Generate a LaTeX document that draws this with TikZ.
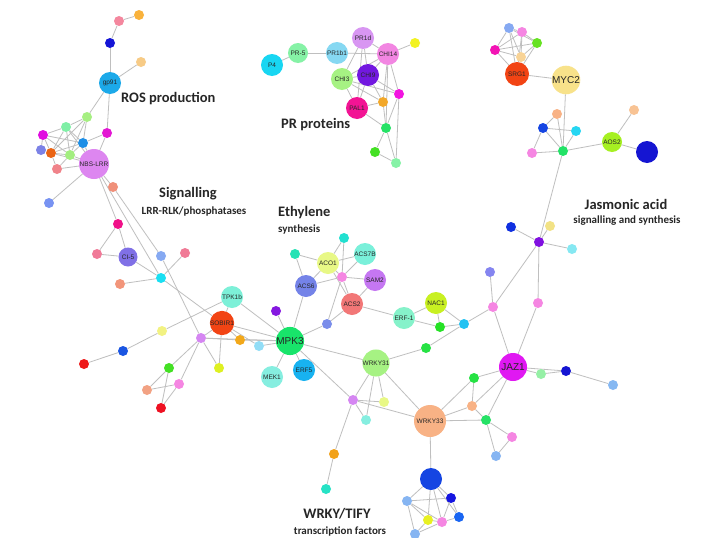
\documentclass[tikz,border=0pt]{standalone}
\usepackage{fontspec}
\setmainfont{Liberation Sans}
\newfontfamily\labfont{Carlito}
\pgfdeclarelayer{bgl}
\pgfdeclarelayer{edges}
\pgfsetlayers{bgl,edges,main}
\begin{document}
\begin{tikzpicture}[x=1pt,y=-1pt,
  sm/.style={circle,inner sep=0pt,minimum size=10pt},
  md/.style={circle,inner sep=0pt,minimum size=22pt,font=\fontsize{6.5}{6.5}\selectfont,text=black!85},
  lg/.style={circle,inner sep=0pt,minimum size=28pt,font=\fontsize{10}{10}\selectfont,text=black!85},
  edge/.style={draw=gray!50,line width=0.8pt},
  grp/.style={font=\labfont\bfseries\fontsize{14.5}{14.5}\selectfont,text=black!85,inner sep=0pt},
  sub/.style={font=\labfont\bfseries\fontsize{11}{11}\selectfont,text=black!85,inner sep=0pt}]
\useasboundingbox (0,0) rectangle (704,538);
\begin{pgfonlayer}{bgl}
\fill[white] (0,0) rectangle (704,538);
\end{pgfonlayer}
% ROS cluster
\node[sm,fill={rgb,255:red,244;green,135;blue,158}] (p1) at (119,21) {};
\node[sm,fill={rgb,255:red,249;green,178;blue,60}] (p2) at (139,15) {};
\node[sm,fill={rgb,255:red,21;green,21;blue,214}] (p3) at (110,43) {};
\node[sm,fill={rgb,255:red,247;green,203;blue,134}] (p4) at (141,62) {};
\node[md,fill={rgb,255:red,28;green,169;blue,233}] (gp91) at (110,83) {gp91};
\node[sm,fill={rgb,255:red,166;green,239;blue,130}] (r1) at (87,117) {};
\node[sm,fill={rgb,255:red,227;green,23;blue,211}] (r2) at (107,133) {};
\node[sm,fill={rgb,255:red,127;green,239;blue,166}] (r3) at (66,127) {};
\node[sm,fill={rgb,255:red,224;green,11;blue,224}] (r4) at (43,135) {};
\node[sm,fill={rgb,255:red,30;green,143;blue,230}] (r5) at (83,143) {};
\node[sm,fill={rgb,255:red,124;green,130;blue,230}] (r6) at (41,150) {};
\node[sm,fill={rgb,255:red,234;green,100;blue,20}] (r7) at (51,153) {};
\node[sm,fill={rgb,255:red,163;green,238;blue,128}] (r8) at (70,155) {};
\node[sm,fill={rgb,255:red,240;green,131;blue,138}] (r9) at (57,169) {};
\node[md,minimum size=30pt,fill={rgb,255:red,221;green,134;blue,240}] (nbs) at (94,164) {NBS-LRR};
\node[sm,fill={rgb,255:red,120;green,147;blue,242}] (r10) at (49,203) {};
\node[sm,fill={rgb,255:red,240;green,144;blue,122}] (r11) at (113,187) {};
% Signalling
\node[sm,fill={rgb,255:red,240;green,16;blue,136}] (s1) at (118,224) {};
\node[md,minimum size=19pt,fill={rgb,255:red,128;green,112;blue,230}] (ci5) at (128,257) {CI-5};
\node[sm,fill={rgb,255:red,240;green,122;blue,152}] (s2) at (97,254) {};
\node[sm,fill={rgb,255:red,134;green,169;blue,242}] (s3) at (161,256) {};
\node[sm,fill={rgb,255:red,240;green,122;blue,150}] (s4) at (185,253) {};
\node[sm,fill={rgb,255:red,26;green,223;blue,242}] (s5) at (161,278) {};
\node[sm,fill={rgb,255:red,242;green,149;blue,122}] (s6) at (120,284) {};
\node[md,fill={rgb,255:red,125;green,240;blue,216}] (tpk) at (232,297) {TPK1b};
\node[md,minimum size=24pt,fill={rgb,255:red,242;green,68;blue,20}] (sob) at (222,323) {SOBIR1};
\node[sm,fill={rgb,255:red,242;green,242;blue,130}] (s7) at (162,331) {};
\node[sm,fill={rgb,255:red,213;green,134;blue,242}] (s8) at (201,338) {};
\node[sm,fill={rgb,255:red,242;green,168;blue,26}] (s9) at (240,340) {};
\node[sm,fill={rgb,255:red,146;green,221;blue,246}] (s10) at (259,346) {};
\node[sm,fill={rgb,255:red,26;green,85;blue,226}] (s11) at (123,351) {};
\node[sm,fill={rgb,255:red,238;green,24;blue,24}] (s12) at (84,364) {};
\node[sm,fill={rgb,255:red,68;green,224;blue,36}] (s13) at (169,368) {};
\node[sm,fill={rgb,255:red,242;green,162;blue,131}] (s14) at (147,390) {};
\node[sm,fill={rgb,255:red,245;green,134;blue,226}] (s15) at (179,384) {};
\node[sm,fill={rgb,255:red,238;green,17;blue,34}] (s16) at (161,408) {};
\node[sm,fill={rgb,255:red,222;green,240;blue,34}] (s17) at (219,368) {};
\node[lg,fill={rgb,255:red,24;green,228;blue,106}] (mpk) at (290,341) {MPK3};
\node[sm,fill={rgb,255:red,133;green,24;blue,224}] (m1) at (276,311) {};
\node[md,fill={rgb,255:red,134;green,238;blue,224}] (mek) at (272,377) {MEK1};
\node[md,fill={rgb,255:red,24;green,178;blue,240}] (erf5) at (304,370) {ERF5};
\node[sm,fill={rgb,255:red,122;green,141;blue,234}] (m2) at (327,324) {};
% Ethylene
\node[sm,fill={rgb,255:red,34;green,224;blue,208}] (e1) at (344,238) {};
\node[sm,fill={rgb,255:red,38;green,226;blue,181}] (e2) at (295,254) {};
\node[md,fill={rgb,255:red,232;green,248;blue,134}] (aco) at (328,263) {ACO1};
\node[md,fill={rgb,255:red,122;green,240;blue,218}] (acs7) at (365,254) {ACS7B};
\node[sm,fill={rgb,255:red,245;green,134;blue,226}] (e3) at (342,277) {};
\node[md,fill={rgb,255:red,197;green,119;blue,242}] (sam) at (375,280) {SAM2};
\node[md,fill={rgb,255:red,116;green,131;blue,232}] (acs6) at (306,286) {ACS6};
\node[md,fill={rgb,255:red,242;green,119;blue,119}] (acs2) at (352,304) {ACS2};
\node[md,fill={rgb,255:red,134;green,242;blue,202}] (erf1) at (404,318) {ERF-1};
\node[md,fill={rgb,255:red,200;green,240;blue,34}] (nac) at (436,303) {NAC1};
\node[sm,fill={rgb,255:red,38;green,226;blue,38}] (e4) at (440,327) {};
\node[sm,fill={rgb,255:red,34;green,194;blue,242}] (e5) at (464,324) {};
\node[sm,fill={rgb,255:red,38;green,226;blue,68}] (e6) at (426,348) {};
% Jasmonic acid
\node[sm,fill={rgb,255:red,245;green,134;blue,226}] (j1) at (493,307) {};
\node[sm,fill={rgb,255:red,245;green,134;blue,226}] (j2) at (538,303) {};
\node[sm,fill={rgb,255:red,133;green,133;blue,240}] (j3) at (490,272) {};
\node[sm,fill={rgb,255:red,128;green,16;blue,224}] (j4) at (539,242) {};
\node[sm,fill={rgb,255:red,16;green,48;blue,224}] (j5) at (511,227) {};
\node[sm,fill={rgb,255:red,242;green,226;blue,133}] (j6) at (550,226) {};
\node[sm,fill={rgb,255:red,134;green,232;blue,242}] (j7) at (572,249) {};
\node[sm,fill={rgb,255:red,34;green,226;blue,102}] (j8) at (563,151) {};
\node[sm,fill={rgb,255:red,248;green,178;blue,133}] (j9) at (557,114) {};
\node[sm,fill={rgb,255:red,21;green,69;blue,226}] (j10) at (543,128) {};
\node[sm,fill={rgb,255:red,38;green,214;blue,242}] (j11) at (576,131) {};
\node[sm,fill={rgb,255:red,245;green,134;blue,226}] (j12) at (532,153) {};
\node[md,minimum size=20pt,fill={rgb,255:red,166;green,240;blue,34}] (aos) at (612,142) {AOS2};
\node[sm,fill={rgb,255:red,248;green,195;blue,148}] (j13) at (634,110) {};
\node[md,fill={rgb,255:red,21;green,21;blue,210}] (lox) at (647,152) {};
\node[lg,fill={rgb,255:red,248;green,226;blue,138}] (myc) at (566,80) {MYC2};
\node[md,minimum size=24pt,fill={rgb,255:red,242;green,68;blue,20}] (srg) at (517,74) {SRG1};
\node[sm,fill={rgb,255:red,134;green,169;blue,242}] (t1) at (509,28) {};
\node[sm,fill={rgb,255:red,245;green,134;blue,226}] (t2) at (522,32) {};
\node[sm,fill={rgb,255:red,102;green,226;blue,34}] (t3) at (537,43) {};
\node[sm,fill={rgb,255:red,242;green,20;blue,180}] (t4) at (495,50) {};
\node[sm,fill={rgb,255:red,248;green,211;blue,150}] (t5) at (521,57) {};
% JAZ1
\node[lg,fill={rgb,255:red,224;green,24;blue,242}] (jaz) at (513,367) {JAZ1};
\node[sm,fill={rgb,255:red,150;green,240;blue,166}] (k1) at (541,374) {};
\node[sm,fill={rgb,255:red,21;green,21;blue,210}] (k2) at (566,371) {};
\node[sm,fill={rgb,255:red,134;green,184;blue,242}] (k3) at (613,385) {};
\node[sm,fill={rgb,255:red,38;green,226;blue,68}] (k4) at (474,378) {};
\node[sm,fill={rgb,255:red,248;green,178;blue,133}] (k5) at (472,406) {};
\node[sm,fill={rgb,255:red,38;green,226;blue,102}] (k6) at (486,420) {};
\node[sm,fill={rgb,255:red,245;green,134;blue,226}] (k7) at (512,437) {};
\node[sm,fill={rgb,255:red,134;green,181;blue,242}] (k8) at (496,456) {};
% WRKY
\node[md,fill={rgb,255:red,166;green,242;blue,131}] (w31) at (376,363) {WRKY31};
\node[md,minimum size=32pt,fill={rgb,255:red,248;green,178;blue,133}] (w33) at (430,421) {WRKY33};
\node[sm,fill={rgb,255:red,213;green,134;blue,242}] (w1) at (353,400) {};
\node[sm,fill={rgb,255:red,232;green,248;blue,134}] (w2) at (384,402) {};
\node[sm,fill={rgb,255:red,134;green,238;blue,224}] (w3) at (366,420) {};
\node[sm,fill={rgb,255:red,242;green,162;blue,26}] (w4) at (334,454) {};
\node[sm,fill={rgb,255:red,38;green,226;blue,197}] (w5) at (326,489) {};
\node[md,fill={rgb,255:red,21;green,69;blue,226}] (bb) at (431,479) {};
\node[sm,fill={rgb,255:red,134;green,181;blue,242}] (b1) at (407,501) {};
\node[sm,fill={rgb,255:red,21;green,21;blue,224}] (b2) at (451,498) {};
\node[sm,fill={rgb,255:red,232;green,240;blue,34}] (b3) at (428,520) {};
\node[sm,fill={rgb,255:red,245;green,134;blue,226}] (b4) at (442,522) {};
\node[sm,fill={rgb,255:red,26;green,102;blue,242}] (b5) at (459,517) {};
\node[sm,fill={rgb,255:red,134;green,181;blue,242}] (b6) at (415,534) {};
% PR proteins
\node[md,fill={rgb,255:red,24;green,214;blue,242}] (P4) at (272,65) {P4};
\node[md,minimum size=20pt,fill={rgb,255:red,134;green,242;blue,166}] (pr5) at (298,53) {PR-5};
\node[md,fill={rgb,255:red,134;green,216;blue,242}] (pr1b1) at (337,53) {PR1b1};
\node[md,fill={rgb,255:red,216;green,150;blue,242}] (pr1d) at (363,38) {PR1d};
\node[md,fill={rgb,255:red,242;green,134;blue,226}] (chi14) at (388,54) {CHI14};
\node[sm,fill={rgb,255:red,242;green,242;blue,34}] (q1) at (415,43) {};
\node[md,fill={rgb,255:red,166;green,242;blue,131}] (chi3) at (342,79) {CHI3};
\node[md,fill={rgb,255:red,114;green,24;blue,224}] (chi9) at (368,75) {CHI9};
\node[sm,fill={rgb,255:red,242;green,20;blue,224}] (q2) at (399,94) {};
\node[sm,fill={rgb,255:red,242;green,168;blue,42}] (q3) at (383,102) {};
\node[md,fill={rgb,255:red,242;green,20;blue,148}] (pal1) at (357,108) {PAL1};
\node[sm,fill={rgb,255:red,38;green,226;blue,102}] (q4) at (386,128) {};
\node[sm,fill={rgb,255:red,68;green,224;blue,36}] (q5) at (375,152) {};
\node[sm,fill={rgb,255:red,134;green,242;blue,166}] (q6) at (396,163) {};
% group labels
\node[grp,anchor=west] (tros) at (121,99) {ROS production};
\node[grp,anchor=west] (tpr) at (281,125) {PR proteins};
\node[grp] (tsig) at (188,194) {Signalling};
\node[sub] (tsig2) at (194,212) {LRR-RLK/phosphatases};
\node[grp,anchor=west] (teth) at (278,213) {Ethylene};
\node[sub,anchor=west] (teth2) at (278,230) {synthesis};
\node[grp] (tja) at (626,204) {Jasmonic acid};
\node[sub] (tja2) at (627,221) {signalling and synthesis};
\node[grp] (twr) at (337,514) {WRKY/TIFY};
\node[sub] (twr2) at (340,531) {transcription factors};
\begin{pgfonlayer}{edges}
\foreach \a/\b in {p1/p2,p1/p3,p3/gp91,gp91/p4,gp91/r1,gp91/r2,r2/nbs,r2/r5,r1/r5,r1/r8,r1/r7,r1/r3,
 r3/r4,r3/r5,r3/r8,r3/r7,r3/nbs,r4/r5,r4/r7,r4/r8,r4/r6,r5/nbs,r5/r8,r5/r7,r6/r7,r7/r8,r7/nbs,r8/nbs,
 r8/r9,r9/nbs,r9/r7,nbs/r10,nbs/r11,nbs/s1,nbs/s5,r11/s3,s3/s8,s1/ci5,s1/s2,s2/ci5,ci5/s5,s5/s6,s5/s4,
 s5/sob,tpk/s7,s7/s11,s11/s12,tpk/sob,tpk/mpk,sob/mpk,sob/s8,sob/s17,sob/s9,sob/s10,s8/mpk,s8/s9,
 s8/s17,s8/s13,s8/s15,s13/s14,s13/s16,s15/s14,s15/s16,s9/mpk,s10/mpk,mpk/m1,mpk/acs6,mpk/mek,mpk/erf5,
 mpk/m2,mpk/w31,mpk/w1,m2/acs2,m2/e3,
 acs6/aco,acs6/e2,e2/aco,aco/e1,aco/acs7,aco/e3,aco/acs2,e1/e3,acs7/e3,e3/sam,e3/acs2,e3/acs6,sam/acs2,
 acs2/erf1,erf1/nac,erf1/e4,nac/e4,nac/e5,e4/e5,e5/e6,e6/w31,e5/j1,
 j1/j4,j1/j3,j1/jaz,j2/j4,j2/jaz,j4/j5,j4/j6,j4/j7,j4/j8,myc/j8,myc/srg,srg/t1,srg/t2,srg/t3,srg/t4,
 srg/t5,t1/t2,t1/t3,t1/t4,t1/t5,t2/t3,t2/t4,t2/t5,t3/t4,t3/t5,t4/t5,j8/j9,j8/j10,j8/j11,j8/j12,j8/aos,
 j9/j10,j10/j11,j10/j12,aos/j13,aos/lox,
 jaz/k1,jaz/k2,k1/k2,k2/k3,jaz/k4,jaz/k5,jaz/k6,k4/w33,k4/k5,k5/w33,k5/k6,w33/k6,k6/k7,k6/k8,k7/k8,
 w33/w31,w33/w1,w33/bb,w31/w1,w31/w2,w31/w3,w1/w2,w1/w3,w1/w4,w4/w5,bb/b1,bb/b2,bb/b3,bb/b4,bb/b5,
 b1/b3,b1/b4,b1/b2,b3/b4,b4/b5,b2/b4,b2/b5,b3/b6,b4/b6,b1/b6,
 P4/pr5,pr5/pr1b1,pr1b1/chi14,pr1d/chi14,pr1d/chi3,pr1d/chi9,pr1d/pal1,chi14/q1,chi14/chi9,chi14/chi3,
 chi14/q2,chi14/q3,chi14/q4,chi3/chi9,chi3/q2,chi3/q3,chi3/pal1,chi9/pal1,chi9/q2,chi9/q3,pal1/q3,
 pal1/q4,q2/q4,q3/q4,q4/q5,q4/q6,q5/q6,q2/q6}
  \draw[edge] (\a) -- (\b);
\end{pgfonlayer}
\end{tikzpicture}
\end{document}
